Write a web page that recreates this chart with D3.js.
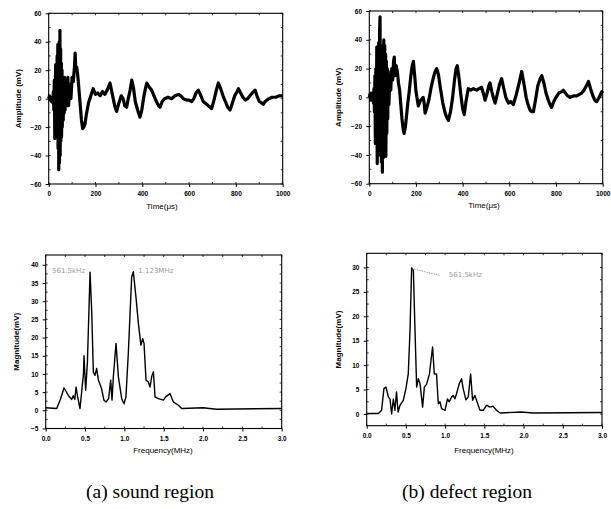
<!DOCTYPE html>
<html><head><meta charset="utf-8">
<script src="https://cdn.jsdelivr.net/npm/d3@7/dist/d3.min.js"></script>
<style>body{margin:0;background:#fff}svg{display:block}</style>
</head><body><svg id="c" width="611" height="509"></svg>
<script>
// ---- Data ----
const timeTicks = [0,200,400,600,800,1000];
const ampTicks = [-60,-40,-20,0,20,40,60];
const freqTicks = [0,0.5,1.0,1.5,2.0,2.5,3.0];
const magTicksA = [-5,0,5,10,15,20,25,30,35,40];
const magTicksB = [0,5,10,15,20,25,30];

// (a) sound region – waveform [time µs, amplitude mV]
const waveA = [[0,0],[3,2],[6,-1],[9,1],[12,-2],[15,0],[18,-3],[20,5],[22,-8],[24,13],[25,-5],[26,-28],[28,10],[30,24],[31,-15],[33,20],[34,-12],[36,30],[37,-20],[39,38],[40,-35],[42,30],[43,-50],[45,40],[46,-45],[48,48],[49,-40],[51,35],[52,-30],[54,25],[55,-27],[57,20],[58,-20],[60,15],[62,-15],[64,12],[66,-10],[68,15],[70,-8],[72,10],[75,-5],[78,13],[80,0],[82,15],[85,-5],[90,10],[95,0],[100,15],[105,12],[110,22],[113,32],[116,20],[120,22],[125,15],[130,5],[135,-5],[140,-15],[145,-21],[150,-20],[155,-18],[160,-12],[170,-3],[180,2],[190,7],[200,3],[210,4],[220,2],[230,5],[240,3],[250,6],[262,11],[272,3],[282,-5],[290,-9],[300,-3],[310,2],[318,0],[325,-5],[333,-6],[340,0],[348,6],[355,13],[362,8],[370,-2],[380,-8],[390,-13],[398,-8],[405,0],[412,6],[419,11],[430,8],[440,6],[450,2],[460,-2],[470,-5],[476,-6],[485,-2],[495,0],[510,1],[525,0],[540,2],[555,3],[565,2],[575,0],[590,-1],[600,-1],[611,-2],[620,0],[630,4],[639,6],[648,3],[660,-2],[675,-4],[690,-6],[696,-7],[705,-2],[715,5],[725,11],[735,7],[745,2],[755,-2],[765,-6],[775,-8],[785,-3],[795,2],[805,5],[811,7],[820,4],[830,1],[840,-1],[850,0],[860,2],[870,4],[882,6],[890,2],[900,-2],[910,-3],[917,-4],[925,-2],[940,0],[955,1],[970,1],[985,2],[1000,2]];

// (b) defect region – waveform
const waveB = [[0,0],[3,2],[6,-2],[9,3],[12,-1],[15,2],[18,-4],[20,6],[22,-10],[24,15],[26,-32],[28,20],[30,-28],[32,35],[34,-46],[36,30],[38,-40],[40,38],[42,-35],[44,45],[46,56],[48,-40],[50,36],[52,-45],[54,34],[56,-52],[58,30],[60,-42],[62,40],[64,-38],[66,36],[68,-35],[70,30],[71,-41],[73,25],[75,-25],[77,20],[79,-15],[81,18],[84,-5],[88,15],[92,5],[96,20],[100,12],[104,25],[107,28],[110,15],[115,22],[120,18],[125,10],[130,5],[135,-5],[140,-15],[145,-22],[149,-25],[155,-20],[160,-12],[165,-4],[171,4],[178,15],[184,22],[189,25],[195,14],[200,4],[210,-6],[220,-2],[231,0],[235,-4],[239,-11],[245,-8],[255,-2],[265,7],[275,14],[282,18],[289,20],[296,16],[305,6],[315,-4],[325,-11],[332,-14],[339,-16],[348,-10],[357,0],[365,12],[372,20],[377,22],[384,14],[392,2],[400,-8],[407,-12],[414,-3],[424,6],[435,5],[446,6],[460,5],[470,6],[481,7],[490,2],[496,-2],[505,3],[512,8],[517,10],[525,4],[533,-1],[539,-4],[548,2],[558,9],[567,13],[575,7],[585,0],[596,-4],[606,-3],[617,-5],[630,2],[642,10],[653,18],[662,10],[672,0],[680,-5],[689,-9],[696,-10],[703,-10],[712,-2],[722,8],[732,13],[739,15],[748,10],[757,3],[767,-2],[774,-5],[781,-7],[790,-3],[800,0],[812,3],[825,4],[831,5],[840,3],[850,1],[860,0],[875,1],[889,1],[900,2],[910,3],[920,5],[930,8],[939,11],[948,6],[958,1],[966,-2],[974,-3],[985,0],[996,4],[1000,3]];

// (a) spectrum [frequency MHz, magnitude mV]
const specA = [[0,0.7],[0.14,0.5],[0.19,3.2],[0.233,6.2],[0.29,4],[0.33,3],[0.35,4],[0.37,3],[0.386,6.4],[0.404,4],[0.436,0.5],[0.48,10],[0.487,15],[0.508,5.5],[0.53,13],[0.564,38],[0.585,27],[0.606,10.5],[0.627,9.6],[0.648,11.5],[0.67,8.3],[0.71,6],[0.74,2.8],[0.767,2.3],[0.8,3.2],[0.826,8.3],[0.843,2.8],[0.86,9.2],[0.894,18.4],[0.924,9.2],[0.966,3.2],[0.996,1.8],[1.02,3.7],[1.05,15.6],[1.093,36.7],[1.114,38.1],[1.148,31],[1.178,23.9],[1.21,17.9],[1.233,19.7],[1.25,18.4],[1.275,8.3],[1.305,7.8],[1.326,6.4],[1.347,9.2],[1.369,10.6],[1.39,3.7],[1.432,3.2],[1.496,2.8],[1.525,3.7],[1.58,4.6],[1.623,2.3],[1.686,1.4],[1.729,0.5],[2.0,0.7],[2.17,0.3],[3.0,0.5]];

// (b) spectrum
const specB = [[0,0.1],[0.149,0.1],[0.19,0.75],[0.22,5.2],[0.246,5.5],[0.276,3.5],[0.297,3.1],[0.318,0],[0.34,3.1],[0.36,0.75],[0.38,4.5],[0.4,0.4],[0.425,1.8],[0.467,2.8],[0.5,5.2],[0.53,8.2],[0.552,17],[0.573,29.9],[0.595,29.4],[0.616,17],[0.637,5.5],[0.658,7.2],[0.68,6.2],[0.713,1.4],[0.735,5.5],[0.764,6.1],[0.8,8.2],[0.82,11],[0.84,13.7],[0.862,8.2],[0.89,8.2],[0.913,2.1],[0.934,2.5],[0.955,1.1],[0.998,0.75],[1.03,3.1],[1.053,2.5],[1.083,3.5],[1.104,3.8],[1.125,3.1],[1.146,4.2],[1.18,6.2],[1.21,7.2],[1.23,5.2],[1.265,2.9],[1.295,3.5],[1.325,8.2],[1.35,2.8],[1.38,3.8],[1.4,2.8],[1.444,0.75],[1.486,0.75],[1.53,1.8],[1.57,1.4],[1.61,1.6],[1.656,0.75],[1.7,0.2],[1.97,0.4],[2.12,0.2],[3.0,0.3]];

const peakLabelsA = [{f:0.564, m:38, text:"561.5kHz"},{f:1.114, m:38, text:"1.123MHz"}];
const peakLabelsB = [{f:0.575, m:29.8, text:"561.5kHz"}];

// ---- Drawing ----
const svg = d3.select("#c");
const tickFont = "'Liberation Sans', Arial, sans-serif";

function panel(o){
  const g = svg.append("g");
  const x = d3.scaleLinear().domain(o.xDomain).range([o.left, o.right]);
  const y = d3.scaleLinear().domain(o.yDomain).range([o.bottom, o.top]);
  g.append("rect").attr("x",o.left).attr("y",o.top)
    .attr("width",o.right-o.left).attr("height",o.bottom-o.top)
    .attr("fill","none").attr("stroke","#000").attr("stroke-width",1.1);
  const xa = g.append("g").attr("transform",`translate(0,${o.bottom})`)
    .call(d3.axisBottom(x).tickValues(o.xTicks).tickSize(3).tickFormat(o.xFmt));
  const ya = g.append("g").attr("transform",`translate(${o.left},0)`)
    .call(d3.axisLeft(y).tickValues(o.yTicks).tickSize(3).tickFormat(o.yFmt));
  [xa,ya].forEach(a=>{
    a.select(".domain").remove();
    a.selectAll("line").attr("stroke","#000").attr("stroke-width",1);
    a.selectAll("text").attr("font-family",tickFont).attr("font-weight","bold")
      .attr("font-size","6.5px").attr("fill","#000");
  });
  xa.selectAll("text").attr("dy","0.95em");
  ya.selectAll("text").attr("dx","-0.2em");
  const xm = d3.pairs(o.xTicks).map(p=>(p[0]+p[1])/2);
  const ym = d3.pairs(o.yTicks).map(p=>(p[0]+p[1])/2);
  const mt = g.append("g").attr("stroke","#000").attr("stroke-width",0.8);
  xm.concat(o.xTicks).forEach(v=>{
    mt.append("line").attr("x1",x(v)).attr("x2",x(v)).attr("y1",o.bottom).attr("y2",o.bottom-2);
    mt.append("line").attr("x1",x(v)).attr("x2",x(v)).attr("y1",o.top).attr("y2",o.top+2);
  });
  ym.concat(o.yTicks).forEach(v=>{
    mt.append("line").attr("y1",y(v)).attr("y2",y(v)).attr("x1",o.left).attr("x2",o.left+2);
    mt.append("line").attr("y1",y(v)).attr("y2",y(v)).attr("x1",o.right).attr("x2",o.right-2);
  });
  const line = d3.line().x(d=>x(d[0])).y(d=>y(d[1]));
  g.append("path").datum(o.data).attr("d",line).attr("fill","none")
    .attr("stroke","#000").attr("stroke-width",o.sw).attr("stroke-linejoin","round");
  g.append("text").attr("x",o.xTitleX).attr("y",o.xTitleY).attr("text-anchor","middle")
    .attr("font-family",tickFont).attr("font-size","8px").attr("fill","#000").text(o.xTitle);
  g.append("text").attr("transform",`translate(${o.yTitleX},${(o.top+o.bottom)/2}) rotate(-90)`)
    .attr("text-anchor","middle").attr("font-family",tickFont).attr("font-size","8px")
    .attr("font-weight","bold").attr("fill","#000").text(o.yTitle);
  return {x,y,g};
}

const fmt1 = d3.format(".1f");

panel({left:48.7,right:282.7,top:13.3,bottom:184,xDomain:[0,1000],yDomain:[-60,60],
  xTicks:timeTicks,yTicks:ampTicks,xFmt:d3.format("d"),yFmt:d3.format("d"),
  data:waveA,sw:3.2,xTitle:"Time(\u03bcs)",xTitleX:162,xTitleY:209,yTitle:"Amplitude (mV)",yTitleX:21});

panel({left:369.3,right:602.7,top:11,bottom:183.7,xDomain:[0,1000],yDomain:[-60,60],
  xTicks:timeTicks,yTicks:ampTicks,xFmt:d3.format("d"),yFmt:d3.format("d"),
  data:waveB,sw:3.2,xTitle:"Time(\u03bcs)",xTitleX:484,xTitleY:208,yTitle:"Amplitude (mV)",yTitleX:341});

const pA = panel({left:45.7,right:281.7,top:255,bottom:428.5,xDomain:[0,3],yDomain:[-5,42.7],
  xTicks:freqTicks,yTicks:magTicksA,xFmt:fmt1,yFmt:d3.format("d"),
  data:specA,sw:1.4,xTitle:"Frequency(MHz)",xTitleX:163,xTitleY:453,yTitle:"Magnitude(mV)",yTitleX:19});

const pB = panel({left:366.7,right:602,top:253.3,bottom:425.7,xDomain:[0,3],yDomain:[-2.4,32.9],
  xTicks:freqTicks,yTicks:magTicksB,xFmt:fmt1,yFmt:d3.format("d"),
  data:specB,sw:1.4,xTitle:"Frequency(MHz)",xTitleX:484,xTitleY:453,yTitle:"Magnitude(mV)",yTitleX:341});

const annFont = "'DejaVu Sans', sans-serif";
pA.g.append("text").attr("x",pA.x(peakLabelsA[0].f)-5).attr("y",pA.y(peakLabelsA[0].m)+1)
  .attr("text-anchor","end").attr("font-family",annFont).attr("font-size","7px").attr("fill","#999")
  .text(peakLabelsA[0].text);
pA.g.append("text").attr("x",pA.x(peakLabelsA[1].f)+5).attr("y",pA.y(peakLabelsA[1].m)+1)
  .attr("text-anchor","start").attr("font-family",annFont).attr("font-size","7px").attr("fill","#999")
  .text(peakLabelsA[1].text);
const lb = peakLabelsB[0];
pB.g.append("line").attr("x1",pB.x(lb.f)).attr("y1",pB.y(lb.m))
  .attr("x2",pB.x(lb.f)+28).attr("y2",pB.y(lb.m)+7)
  .attr("stroke","#777").attr("stroke-width",0.7).attr("stroke-dasharray","1.5,1");
pB.g.append("text").attr("x",pB.x(lb.f)+37).attr("y",pB.y(lb.m)+9)
  .attr("font-family",annFont).attr("font-size","7px").attr("fill","#999").text(lb.text);

const capFont = "'Liberation Serif', 'DejaVu Serif', serif";
svg.append("text").attr("x",150).attr("y",498).attr("text-anchor","middle")
  .attr("font-family",capFont).attr("font-size","19.5px").attr("fill","#000").text("(a) sound region");
svg.append("text").attr("x",467).attr("y",498).attr("text-anchor","middle")
  .attr("font-family",capFont).attr("font-size","19.5px").attr("fill","#000").text("(b) defect region");
</script></body></html>
